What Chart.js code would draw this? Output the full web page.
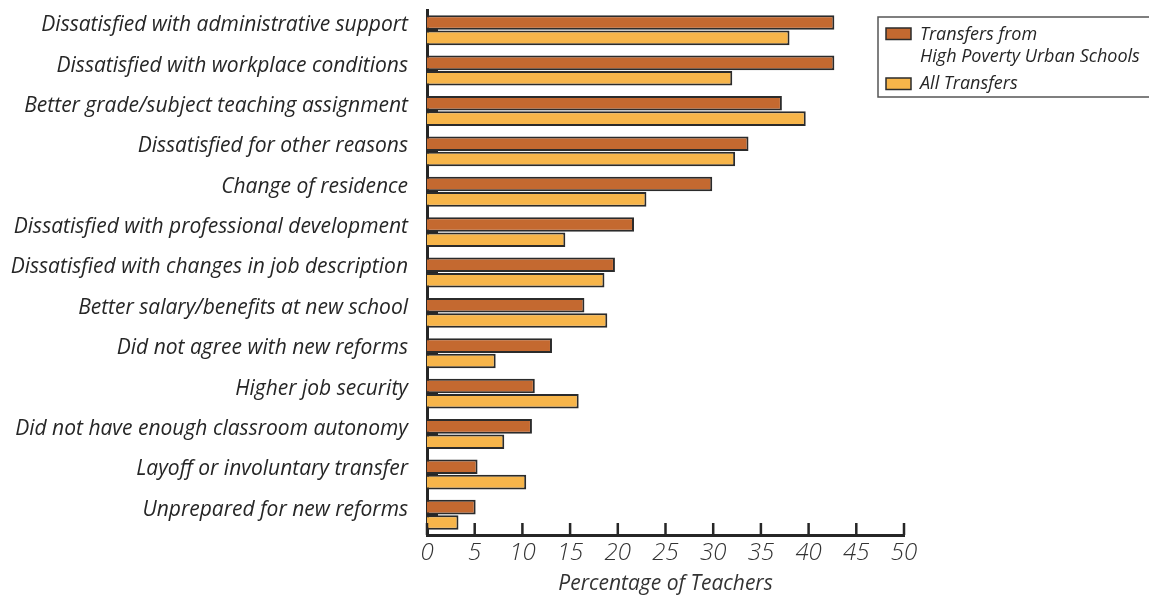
<!DOCTYPE html>
<html>
<head>
<meta charset="utf-8">
<script src="https://cdn.jsdelivr.net/npm/chart.js@4.4.1/dist/chart.umd.min.js"></script>
<style>
  html, body { margin: 0; padding: 0; background: #fff; }
  canvas { display: block; }
</style>
</head>
<body>
<canvas id="reasons" width="1149" height="595"></canvas>
<script>
// reasons for transferring schools
const reasons = [
	"Dissatisfied with administrative support",
	"Dissatisfied with workplace conditions",
	"Better grade/subject teaching assignment",
	"Dissatisfied for other reasons",
	"Change of residence",
	"Dissatisfied with professional development",
	"Dissatisfied with changes in job description",
	"Better salary/benefits at new school",
	"Did not agree with new reforms",
	"Higher job security",
	"Did not have enough classroom autonomy",
	"Layoff or involuntary transfer",
	"Unprepared for new reforms"
];
const highPoverty = [42.7, 42.7, 37.2, 33.7, 29.9, 21.7, 19.7, 16.5, 13.1, 11.3, 11.0, 5.3, 5.1];
const allTransfers = [38.0, 32.0, 39.7, 32.3, 23.0, 14.5, 18.6, 18.9, 7.2, 15.9, 8.1, 10.4, 3.3];
const seriesNames = [["Transfers from", "High Poverty Urban Schools"], ["All Transfers"]];
const xTicks = [0, 5, 10, 15, 20, 25, 30, 35, 40, 45, 50];

const FONT = "'Open Sans'";
const INK = "#262626";

// inward tick marks on both axes
const axisTicks = {
	id: "axisTicks",
	beforeDatasetsDraw(chart) {
		const { ctx, chartArea: { left }, scales: { y } } = chart;
		ctx.save();
		ctx.strokeStyle = INK;
		ctx.lineWidth = 3;
		ctx.beginPath();
		reasons.forEach((r, i) => {
			const py = y.getPixelForValue(i);
			ctx.moveTo(left, py);
			ctx.lineTo(left + 11, py);
		});
		ctx.stroke();
		ctx.restore();
	},
	afterDatasetsDraw(chart) {
		const { ctx, chartArea: { bottom }, scales: { x } } = chart;
		ctx.save();
		ctx.strokeStyle = INK;
		ctx.lineWidth = 2.5;
		ctx.beginPath();
		xTicks.forEach(v => {
			const px = x.getPixelForValue(v);
			ctx.moveTo(px, bottom);
			ctx.lineTo(px, bottom - 12);
		});
		ctx.stroke();
		ctx.restore();
	}
};

// boxed legend in the top right corner
const boxLegend = {
	id: "boxLegend",
	afterDraw(chart) {
		const { ctx } = chart;
		const bx = 878, by = 17;
		ctx.save();
		ctx.strokeStyle = "#555";
		ctx.lineWidth = 1.5;
		ctx.strokeRect(bx, by, 300, 80);
		ctx.font = "italic 18px " + FONT;
		ctx.textBaseline = "middle";
		const rows = [[35, 57], [84]];
		const boxes = [28, 78];
		chart.data.datasets.forEach((ds, i) => {
			ctx.fillStyle = ds.backgroundColor;
			ctx.fillRect(bx + 8, boxes[i], 25, 11.5);
			ctx.strokeStyle = ds.borderColor;
			ctx.lineWidth = 1.5;
			ctx.strokeRect(bx + 8, boxes[i], 25, 11.5);
			ctx.fillStyle = INK;
			seriesNames[i].forEach((line, j) => {
				ctx.fillText(line, bx + 42, rows[i][j]);
			});
		});
		ctx.restore();
	}
};

const ctx = document.getElementById("reasons").getContext("2d");
const chart = new Chart(ctx, {
	type: "bar",
	data: {
		labels: reasons,
		datasets: [
			{
				label: seriesNames[0].join(" "),
				data: highPoverty,
				backgroundColor: "#C46930",
				borderColor: "#2b2b2b",
				borderWidth: 2,
				barPercentage: 0.95,
				categoryPercentage: 0.76
			},
			{
				label: seriesNames[1].join(" "),
				data: allTransfers,
				backgroundColor: "#F7B54A",
				borderColor: "#2b2b2b",
				borderWidth: 2,
				barPercentage: 0.95,
				categoryPercentage: 0.76
			}
		]
	},
	options: {
		indexAxis: "y",
		responsive: false,
		animation: false,
		layout: { padding: { top: 10, right: 245, left: 0, bottom: 0 } },
		plugins: {
			legend: { display: false },
			tooltip: { enabled: false }
		},
		scales: {
			x: {
				min: 0,
				max: 50,
				afterBuildTicks(scale) {
					scale.ticks = xTicks.map(v => ({ value: v }));
				},
				afterFit(scale) {
					scale.height = 60;
					scale.paddingLeft = 0;
					scale.paddingRight = 0;
				},
				grid: { display: false, drawTicks: false },
				border: { display: true, color: INK, width: 3 },
				ticks: {
					padding: 4,
					color: "#333",
					font: { family: FONT, style: "italic", weight: "300", size: 24 }
				},
				title: {
					display: true,
					text: "Percentage of Teachers",
					color: "#333",
					padding: 0,
					font: { family: FONT, style: "italic", size: 21, lineHeight: 1.0 }
				}
			},
			y: {
				afterFit(scale) {
					scale.width = 427;
					scale.paddingTop = 0;
					scale.paddingBottom = 0;
				},
				grid: { display: false, drawTicks: false },
				border: { display: true, color: INK, width: 3 },
				ticks: {
					padding: 19,
					labelOffset: -5,
					color: INK,
					autoSkip: false,
					font: { family: FONT, style: "italic", size: 21 }
				}
			}
		}
	},
	plugins: [axisTicks, boxLegend]
});
</script>
</body>
</html>
